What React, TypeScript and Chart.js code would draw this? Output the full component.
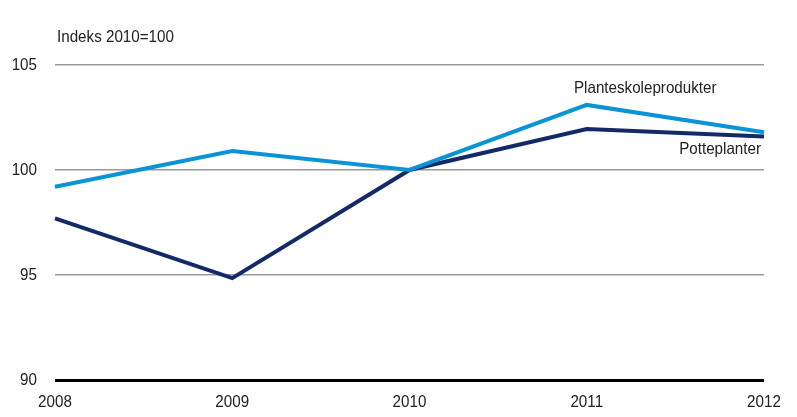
import React, { useEffect, useRef } from "react";
import { Chart, registerables } from "chart.js";

Chart.register(...registerables);

const years = ["2008", "2009", "2010", "2011", "2012"];
const planteskole = [99.2, 100.9, 100.0, 103.1, 101.8];
const potteplanter = [97.7, 94.85, 100.0, 101.95, 101.6];
const yTicks = [90, 95, 100, 105];
const unitLabel = "Indeks 2010=100";
const seriesNames = ["Planteskoleprodukter", "Potteplanter"];

const FONT = "'Liberation Sans', Arial, sans-serif";
const LIGHT = "#0a94d6";
const DARK = "#132a66";
const SX = 0.92;

function narrowText(ctx: any, text: string, x: number, y: number, align: string) {
  ctx.save();
  ctx.translate(x, y);
  ctx.scale(SX, 1);
  ctx.textAlign = align;
  ctx.fillText(text, 0, 0);
  ctx.restore();
}

const labelPlugin = {
  id: "labels",
  afterDraw(chart: any) {
    const ctx = chart.ctx;
    const x = chart.scales.x;
    const y = chart.scales.y;
    ctx.save();
    ctx.font = `16.5px ${FONT}`;
    ctx.fillStyle = "#222";
    ctx.textBaseline = "middle";
    narrowText(ctx, unitLabel, chart.chartArea.left + 2, 37, "left");
    narrowText(ctx, seriesNames[0], x.getPixelForValue(3.33), y.getPixelForValue(planteskole[3]) - 16, "center");
    narrowText(ctx, seriesNames[1], x.getPixelForValue(4) - 3, y.getPixelForValue(potteplanter[4]) + 13, "right");
    // axis tick labels
    yTicks.forEach((v) => {
      narrowText(ctx, String(v), chart.chartArea.left - 18, y.getPixelForValue(v), "right");
    });
    years.forEach((lab, i) => {
      narrowText(ctx, lab, x.getPixelForValue(i), chart.chartArea.bottom + 22, "center");
    });
    ctx.restore();
  },
};

export default function App() {
  const ref = useRef<HTMLCanvasElement>(null);
  useEffect(() => {
    const chart = new Chart(ref.current!, {
      type: "line",
      data: {
        labels: years,
        datasets: [
          {
            label: seriesNames[0],
            data: planteskole,
            borderColor: LIGHT,
            borderWidth: 4,
            pointRadius: 0,
            tension: 0,
            order: 0,
          },
          {
            label: seriesNames[1],
            data: potteplanter,
            borderColor: DARK,
            borderWidth: 4,
            pointRadius: 0,
            tension: 0,
            order: 1,
          },
        ],
      },
      plugins: [labelPlugin],
      options: {
        animation: false,
        responsive: false,
        devicePixelRatio: 1,
        layout: { padding: { top: 65, right: 33, left: 0, bottom: 0 } },
        plugins: { legend: { display: false }, tooltip: { enabled: false }, title: { display: false } },
        scales: {
          x: {
            offset: false,
            grid: { display: false, drawTicks: false },
            border: { display: false },
            ticks: { display: false, autoSkip: false },
            afterFit: (s: any) => { s.height = 37; },
          },
          y: {
            min: 90,
            max: 105,
            afterBuildTicks: (s: any) => { s.ticks = yTicks.map((v) => ({ value: v })); },
            grid: {
              drawTicks: false,
              color: (c: any) => (c.tick && c.tick.value === 90 ? "#000" : "#999999"),
              lineWidth: (c: any) => (c.tick && c.tick.value === 90 ? 3 : 1.5),
            },
            border: { display: false },
            ticks: { display: false },
            afterFit: (s: any) => { s.width = 55; },
          },
        },
      },
    });
    return () => chart.destroy();
  }, []);
  return (
    <div style={{ position: "fixed", left: 0, top: 0, width: 797, height: 417, background: "#fff" }}>
      <canvas ref={ref} width={797} height={417} style={{ width: 797, height: 417 }} />
    </div>
  );
}
